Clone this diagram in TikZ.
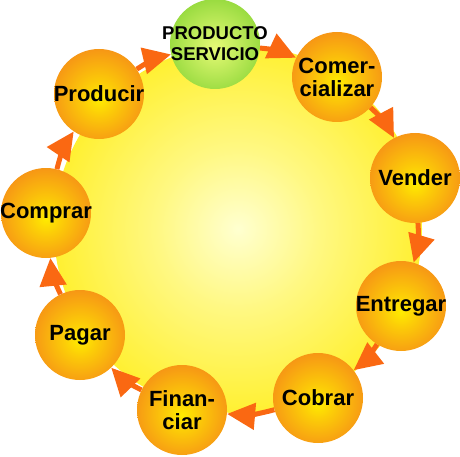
\documentclass[tikz,border=0pt]{standalone}
\usepackage{fontspec}
\setmainfont{Liberation Sans}
\usetikzlibrary{arrows.meta}
\definecolor{sunin}{RGB}{255,255,208}
\definecolor{sunmid}{RGB}{255,248,130}
\definecolor{sunout}{RGB}{255,240,50}
\definecolor{ballin}{RGB}{255,236,0}
\definecolor{ballout}{RGB}{246,146,22}
\definecolor{hubin}{RGB}{230,250,118}
\definecolor{hubout}{RGB}{150,218,62}
\definecolor{arrowc}{RGB}{250,104,18}
\pgfdeclareradialshading{sunshade}{\pgfpoint{0bp}{0bp}}{color(0bp)=(sunin); color(11bp)=(sunmid); color(25bp)=(sunout); color(50bp)=(sunout)}
\pgfdeclareradialshading{ballshade}{\pgfpoint{0bp}{-3bp}}{color(0bp)=(ballin); color(9bp)=(ballin!65!ballout); color(28bp)=(ballout); color(50bp)=(ballout)}
\pgfdeclareradialshading{hubshade}{\pgfpoint{0bp}{-2bp}}{color(0bp)=(hubin); color(27bp)=(hubout); color(50bp)=(hubout)}
\tikzset{
	ball/.style={circle, inner sep=0pt, minimum size=90pt, shading=ballshade},
	hub/.style={ball, shading=hubshade},
	every label/.style={font=\bfseries\fontsize{22}{23}\selectfont, align=center, inner sep=0pt},
	hub label/.style={font=\bfseries\fontsize{18.5}{21}\selectfont},
	ar/.style={draw=arrowc, line width=5pt, -{Triangle[length=28pt,width=26pt]}, bend left=10}
}
\begin{document}
\begin{tikzpicture}[x=1pt,y=1pt]
	\useasboundingbox (0,0) rectangle (460,456);
	\node[circle, inner sep=0pt, minimum size=368pt, shading=sunshade] (sun) at (238,227) {};
	% ring of stages
	\node[hub, label={[hub label]center:PRODUCTO\\SERVICIO}] (prod) at (215,412) {};
	\node[ball, label={center:Comer-\\cializar}] (comer) at (337,379) {};
	\node[ball, label={center:Vender}] (vender) at (415,278) {};
	\node[ball, label={center:Entregar}] (entregar) at (401,150) {};
	\node[ball, label={center:Cobrar}] (cobrar) at (318,58) {};
	\node[ball, label={center:Finan-\\ciar}] (financiar) at (182,46) {};
	\node[ball, label={center:Pagar}] (pagar) at (80,121) {};
	\node[ball, label={center:Comprar}] (comprar) at (46,243) {};
	\node[ball, label={center:Producir}] (producir) at (99,362) {};
	\foreach \a/\b in {prod/comer, comer/vender, vender/entregar, entregar/cobrar,
		cobrar/financiar, financiar/pagar, pagar/comprar, comprar/producir, producir/prod}
		\draw[ar] (\a) to (\b);
\end{tikzpicture}
\end{document}
